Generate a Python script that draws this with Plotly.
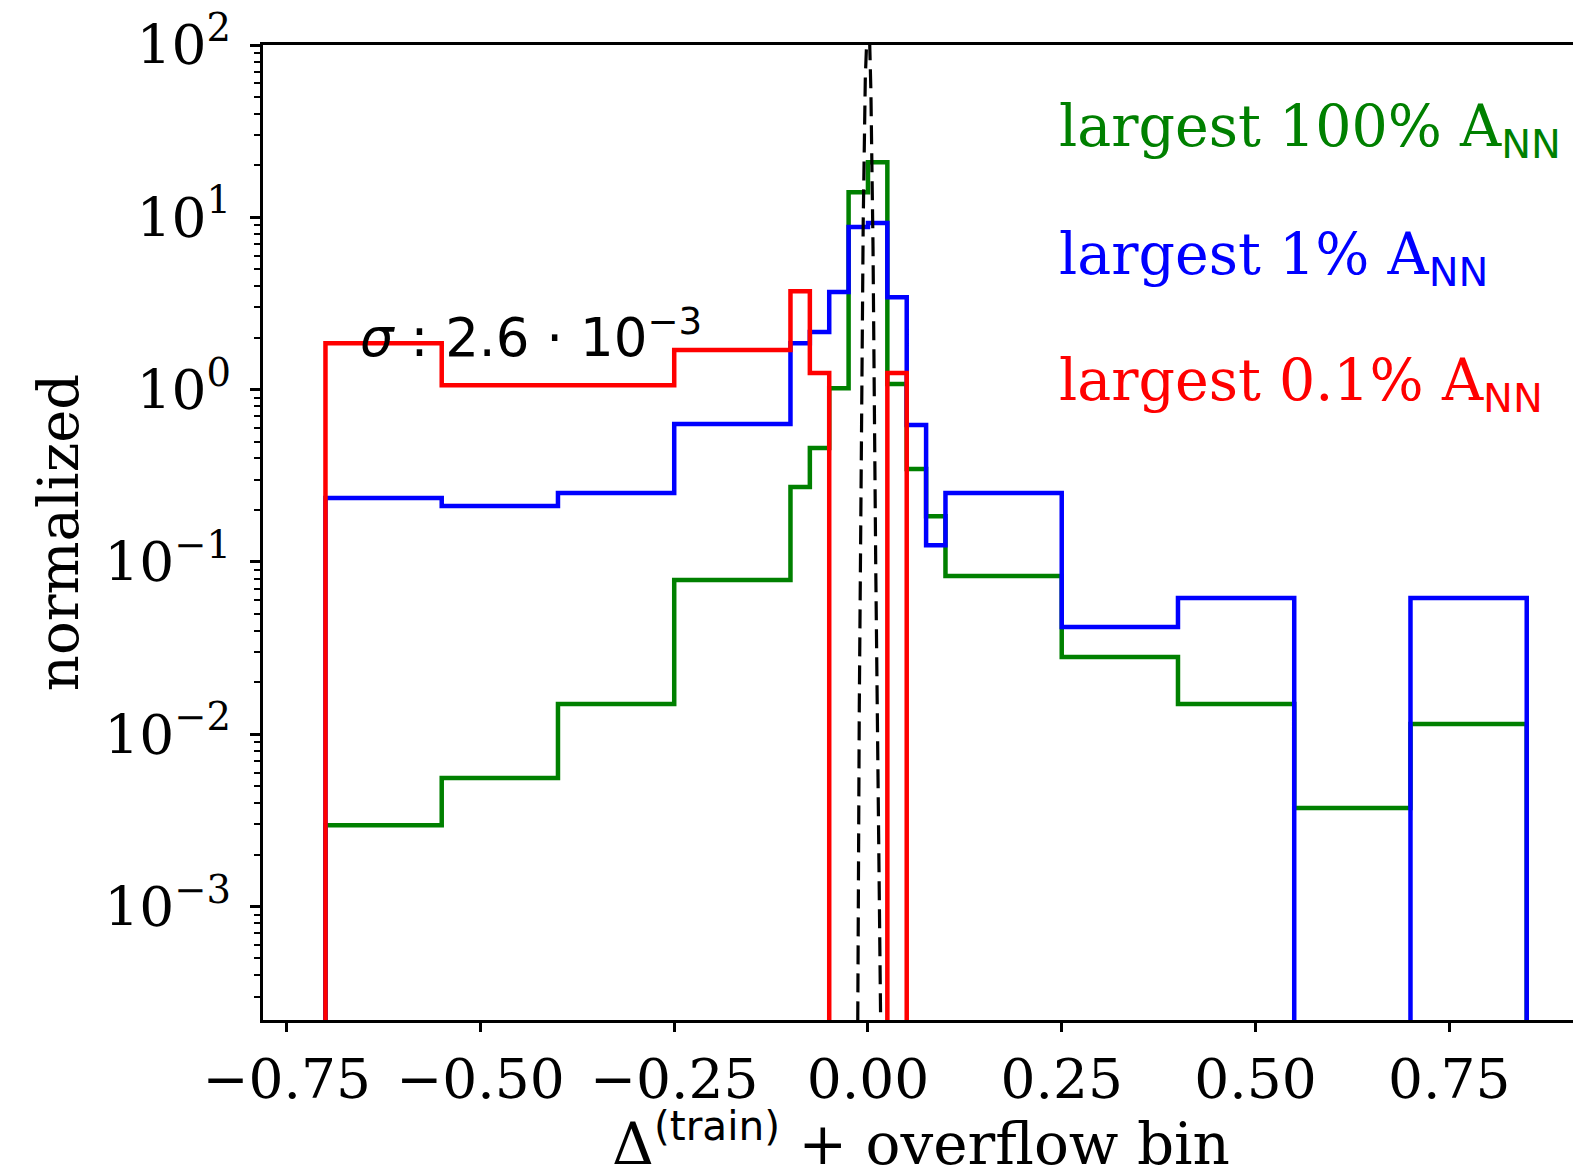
import numpy as np
import plotly.graph_objects as go

# ---- data ----
edges = [-0.7, -0.55, -0.4, -0.25, -0.1, -0.075, -0.05, -0.025, 0.0,
         0.025, 0.05, 0.075, 0.1, 0.25, 0.4, 0.55, 0.7, 0.85]
green_100 = [2.97e-3, 5.57e-3, 0.0150, 0.0785, 0.272, 0.458, 1.02, 14.0, 20.9,
             1.08, 0.346, 0.184, 0.0828, 0.0281, 0.0150, 3.74e-3, 0.01146]
blue_1 = [0.235, 0.211, 0.251, 0.631, 1.86, 2.16, 3.69, 8.79, 9.27,
          3.44, 0.624, 0.125, 0.251, 0.0419, 0.0617, 0.0, 0.0617]
red_01 = [1.86, 1.06, 1.06, 1.70, 3.73, 1.25, 0.0, 0.0, 0.0,
          1.25, 0.0, 0.0, 0.0, 0.0, 0.0, 0.0, 0.0]
sigma = 2.6e-3
mu = 0.0

labels = ["largest 100% A", "largest 1% A", "largest 0.1% A"]
colors = ["#008000", "#0000ff", "#ff0000"]
xtick_vals = [-0.75, -0.5, -0.25, 0.0, 0.25, 0.5, 0.75]
ytick_exps = [-3, -2, -1, 0, 1, 2]

FLOOR = 1e-8  # below visible range (log axis), mimics step down to baseline


def step_path(e, v):
    xs, ys = [e[0]], [FLOOR]
    for i, val in enumerate(v):
        val = val if val > 0 else FLOOR
        xs += [e[i], e[i + 1]]
        ys += [val, val]
    xs.append(e[-1])
    ys.append(FLOOR)
    return xs, ys


fig = go.Figure()
for vals, col in zip([green_100, blue_1, red_01], colors):
    xs, ys = step_path(edges, vals)
    fig.add_trace(go.Scatter(x=xs, y=ys, mode="lines",
                             line=dict(color=col, width=4.5), showlegend=False))

# Gaussian fit curve
gx = np.linspace(-0.03, 0.03, 1201)
gy = 1.0 / (sigma * np.sqrt(2 * np.pi)) * np.exp(-(gx - mu) ** 2 / (2 * sigma ** 2))
gy = np.where(gy > FLOOR, gy, FLOOR)
fig.add_trace(go.Scatter(x=gx, y=gy, mode="lines",
                         line=dict(color="black", width=3.2, dash="19px,9px"),
                         showlegend=False))

serif = "DejaVu Serif"
sans = "DejaVu Sans"

ytick_text = []
for e in ytick_exps:
    s = str(e).replace("-", "\u2212")
    ytick_text.append(f"10<sup>{s}</sup>")
minor_vals = [k * 10.0 ** n for n in range(-4, 2) for k in range(2, 10)]

xtick_text = [("%.2f" % v).replace("-", "\u2212") for v in xtick_vals]

fig.update_layout(
    width=1573, height=1174,
    margin=dict(l=263, r=0, t=45, b=154, pad=0),
    paper_bgcolor="white", plot_bgcolor="white",
    font=dict(family=serif, color="black", size=54),
    xaxis=dict(range=[-0.7806, 0.9097], showgrid=False, zeroline=False,
               showline=True, linecolor="black", linewidth=3, mirror=True,
               ticks="outside", ticklen=9, tickwidth=3, tickcolor="black",
               tickvals=xtick_vals, ticktext=xtick_text,
               tickfont=dict(family=serif, size=55)),
    yaxis=dict(type="log", range=[-3.658, 2.0], showgrid=False, zeroline=False,
               showline=True, linecolor="black", linewidth=3, mirror=False,
               ticks="outside", ticklen=10, tickwidth=3, tickcolor="black",
               tickvals=[10.0 ** e for e in ytick_exps], ticktext=ytick_text,
               tickfont=dict(family=serif, size=55), ticklabelstandoff=8,
               minor=dict(tickvals=minor_vals, ticks="outside", ticklen=6,
                          tickwidth=2, tickcolor="black", showgrid=False)),
)

ann_y = [130, 258, 384]
for lab, col, py in zip(labels, colors, ann_y):
    fig.add_annotation(
        x=0.244, xref="x", xanchor="left",
        y=(1020 - py) / 975, yref="paper", yanchor="middle",
        text=f"{lab}<sub><span style=\"font-family:{sans}\">NN</span></sub>",
        showarrow=False, font=dict(family=serif, size=57, color=col))

fig.add_annotation(
    x=-0.658, xref="x", xanchor="left",
    y=(1020 - 334) / 975, yref="paper", yanchor="middle",
    text="<i>σ</i> : 2.6 · 10<sup>\u22123</sup>",
    showarrow=False, font=dict(family=sans, size=53, color="black"))

fig.add_annotation(
    x=-0.156, xref="paper", xanchor="center",
    y=0.5, yref="paper", yanchor="middle", textangle=-90,
    text="normalized", showarrow=False,
    font=dict(family=serif, size=56, color="black"))

fig.add_annotation(
    x=(921 - 263) / 1310, xref="paper", xanchor="center",
    y=(1020 - 1140) / 975, yref="paper", yanchor="middle",
    text=f"Δ<sup><span style=\"font-family:{sans}\">(train)</span></sup> + overflow bin",
    showarrow=False, font=dict(family=serif, size=58, color="black"))

fig.write_html("out.html")
